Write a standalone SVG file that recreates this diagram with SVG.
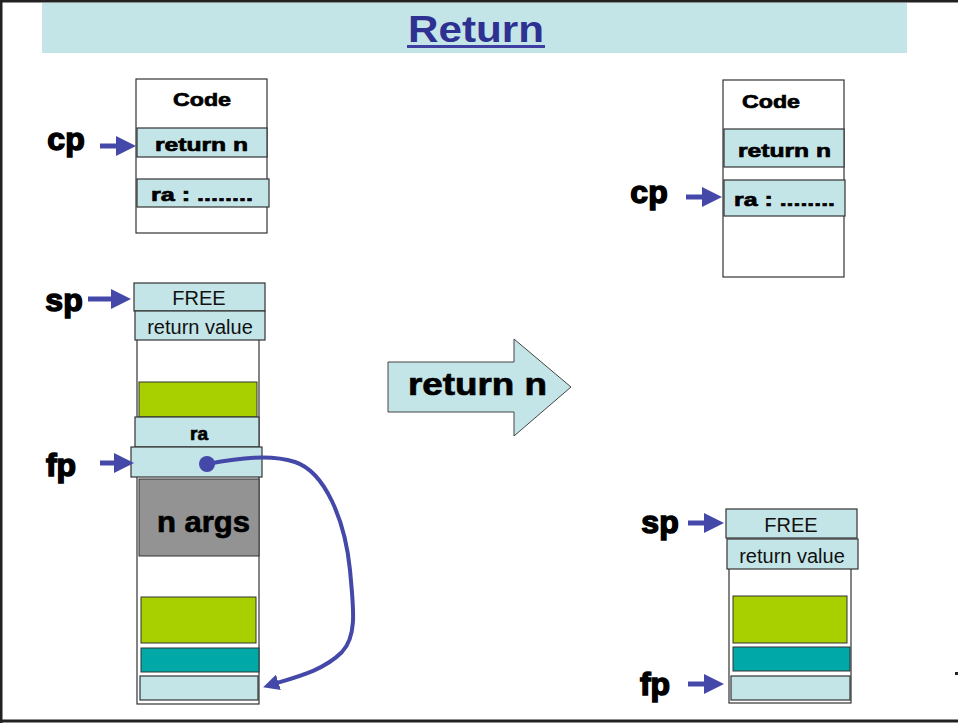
<svg xmlns="http://www.w3.org/2000/svg" width="958" height="723" viewBox="0 0 958 723">
<defs>
<style>
.lb{fill:#c4e5e8;stroke:#333;stroke-width:1.2}
.wb{fill:#fff;stroke:#333;stroke-width:1.2}
.gr{fill:#a8d000;stroke:#333;stroke-width:1}
.tl{fill:#00a8a8;stroke:#333;stroke-width:1}
.gy{fill:#939393;stroke:#333;stroke-width:1}
.bt{font-family:"Liberation Sans",Arial,sans-serif;font-weight:bold;fill:#000;stroke:#000;stroke-width:0.7}
.rt{font-family:"Liberation Sans",Arial,sans-serif;fill:#111}
.ptr{stroke:#4448a8;stroke-width:5;fill:none}
.pl{font-family:"Liberation Sans",Arial,sans-serif;font-weight:900;font-size:32px;fill:#000;stroke:#000;stroke-width:1.5}
</style>
<marker id="ah" markerWidth="4" markerHeight="4" refX="2.2" refY="2" orient="auto" markerUnits="strokeWidth">
<path d="M0,0 L4,2 L0,4 Z" fill="#4448a8"/>
</marker>
</defs>
<rect x="0" y="0" width="958" height="723" fill="#fff"/>
<path d="M1,723 V1 H958" fill="none" stroke="#222" stroke-width="3"/>
<line x1="0" y1="721" x2="958" y2="721" stroke="#222" stroke-width="3"/>
<rect x="955" y="672" width="3" height="3" fill="#222"/>
<g id="title">
<rect x="42" y="3" width="865" height="50" fill="#c4e5e8"/>
<text x="408" y="42" textLength="136" lengthAdjust="spacingAndGlyphs" font-family="Liberation Sans,Arial,sans-serif" font-weight="bold" font-size="37" fill="#2e3192">Return</text>
<rect x="407" y="45" width="138" height="3" fill="#3e3fa0"/>
</g>
<g id="code-left">
<rect class="wb" x="136" y="79" width="131" height="154"/>
<text class="bt" x="173" y="106" font-size="19" textLength="58" lengthAdjust="spacingAndGlyphs">Code</text>
<rect class="lb" x="137" y="128" width="130" height="29"/>
<text class="bt" x="155" y="151" font-size="19" textLength="93" lengthAdjust="spacingAndGlyphs">return n</text>
<rect class="lb" x="137" y="179" width="132" height="28"/>
<text class="bt" x="151" y="201" font-size="19" textLength="102" lengthAdjust="spacingAndGlyphs">ra : ........</text>
</g>
<g id="stack-left">
<rect class="wb" x="137" y="335" width="122" height="369"/>
<rect class="lb" x="134" y="283" width="131" height="28"/>
<text class="rt" x="199" y="305" font-size="20" text-anchor="middle">FREE</text>
<rect class="lb" x="135" y="311" width="130" height="29"/>
<text class="rt" x="200" y="334" font-size="20" text-anchor="middle">return value</text>
<rect class="gr" x="139" y="382" width="118" height="35"/>
<rect class="lb" x="135" y="417" width="124" height="30"/>
<text class="bt" x="199" y="440" font-size="19" text-anchor="middle">ra</text>
<rect class="lb" x="131" y="447" width="131" height="30"/>
<rect class="gy" x="139" y="479" width="120" height="77"/>
<text class="bt" x="157" y="532" font-size="30" textLength="93" lengthAdjust="spacingAndGlyphs">n args</text>
<rect class="gr" x="141" y="597" width="115" height="46"/>
<rect class="tl" x="141" y="648" width="118" height="24"/>
<rect class="lb" x="140" y="676" width="118" height="24"/>
</g>
<g id="return-arrow">
<path d="M388,362 H514 V339 L571,387 L514,436 V412 H388 Z" fill="#c4e5e8" stroke="#444" stroke-width="1"/>
<text class="bt" x="408" y="395" font-size="31" textLength="139" lengthAdjust="spacingAndGlyphs" stroke-width="1">return n</text>
</g>
<g id="code-right">
<rect class="wb" x="723" y="80" width="121" height="197"/>
<text class="bt" x="742" y="108" font-size="19" textLength="58" lengthAdjust="spacingAndGlyphs">Code</text>
<rect class="lb" x="724" y="129" width="120" height="38"/>
<text class="bt" x="738" y="157" font-size="19" textLength="93" lengthAdjust="spacingAndGlyphs">return n</text>
<rect class="lb" x="724" y="180" width="121" height="36"/>
<text class="bt" x="734" y="206" font-size="19" textLength="101" lengthAdjust="spacingAndGlyphs">ra : ........</text>
</g>
<g id="stack-right">
<rect class="wb" x="729" y="565" width="122" height="138"/>
<rect class="lb" x="726" y="509" width="131" height="29"/>
<text class="rt" x="791" y="532" font-size="20" text-anchor="middle">FREE</text>
<rect class="lb" x="727" y="539" width="131" height="30"/>
<text class="rt" x="792" y="563" font-size="20" text-anchor="middle">return value</text>
<rect class="gr" x="733" y="596" width="114" height="47"/>
<rect class="tl" x="733" y="647" width="117" height="24"/>
<rect class="lb" x="731" y="676" width="119" height="24"/>
</g>
<g id="labels">
<text class="pl" x="66" y="150" text-anchor="middle">cp</text>
<text class="pl" x="64" y="311" text-anchor="middle">sp</text>
<text class="pl" x="61" y="476" text-anchor="middle">fp</text>
<text class="pl" x="649" y="203" text-anchor="middle">cp</text>
<text class="pl" x="660" y="533" text-anchor="middle">sp</text>
<text class="pl" x="655" y="695" text-anchor="middle">fp</text>
</g>
<g id="connectors">
<line class="ptr" x1="100" y1="146" x2="127" y2="146" marker-end="url(#ah)"/>
<line class="ptr" x1="88" y1="299" x2="122" y2="299" marker-end="url(#ah)"/>
<line class="ptr" x1="100" y1="463" x2="125" y2="463" marker-end="url(#ah)"/>
<line class="ptr" x1="686" y1="197" x2="713" y2="197" marker-end="url(#ah)"/>
<line class="ptr" x1="688" y1="523" x2="715" y2="523" marker-end="url(#ah)"/>
<line class="ptr" x1="688" y1="684" x2="715" y2="684" marker-end="url(#ah)"/>
<circle cx="207" cy="464" r="8" fill="#4448a8"/>
<path d="M207,464 C240,458 270,454 295,462 C325,472 345,520 350,570 C353,605 358,635 342,652 C322,672 292,678 270,685" stroke="#4448a8" stroke-width="4" fill="none" marker-end="url(#ah)"/>
</g>
</svg>
